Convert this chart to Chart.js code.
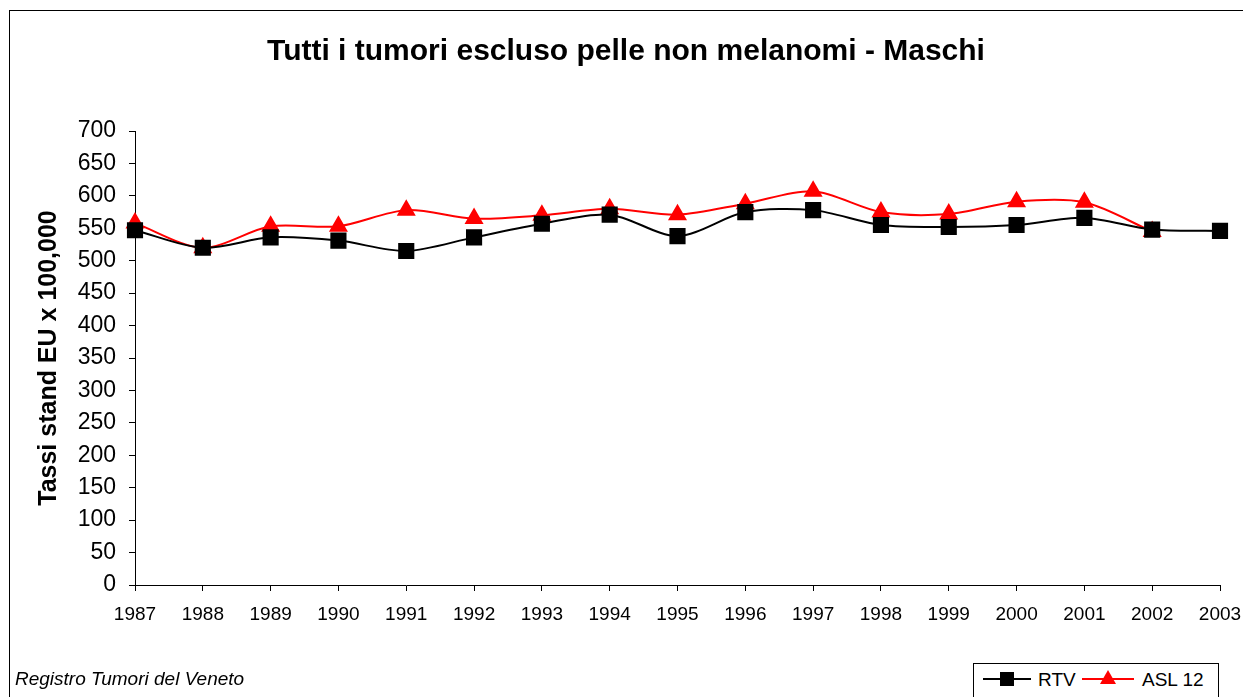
<!DOCTYPE html>
<html>
<head>
<meta charset="utf-8">
<title>Tutti i tumori escluso pelle non melanomi - Maschi</title>
<script src="https://cdn.jsdelivr.net/npm/chart.js@4.4.1/dist/chart.umd.min.js"></script>
<style>
  html, body { margin: 0; padding: 0; background: #fff; }
  body { width: 1243px; height: 697px; position: relative; overflow: hidden; font-family: "Liberation Sans", Arial, sans-serif; }
  #frame { position: absolute; left: 9px; top: 10px; width: 1240px; height: 700px; border: 1px solid #000; box-sizing: border-box; }
  #wrap { position: absolute; left: 0; top: 0; width: 1243px; height: 697px; }
  #title { position: absolute; left: 0; width: 1252px; top: 33px; text-align: center; font-weight: bold; font-size: 30px; }
  #source { position: absolute; left: 15px; top: 668px; font-style: italic; font-size: 19px; }
  #legend { position: absolute; left: 973px; top: 663px; width: 246px; height: 40px; border: 1px solid #000; box-sizing: border-box; background: #fff; }
  .item { position: absolute; top: 5px; font-size: 19px; line-height: 22px; }
  .line { position: absolute; height: 2px; }
  .sq { position: absolute; width: 14px; height: 14px; background: #000; }
  .tri { position: absolute; width: 0; height: 0; border-left: 8px solid transparent; border-right: 8px solid transparent; border-bottom: 14px solid #f00; }
</style>
</head>
<body>
<div id="frame"></div>
<div id="wrap"><canvas id="chart" width="1243" height="697"></canvas></div>
<div id="title">Tutti i tumori escluso pelle non melanomi - Maschi</div>
<div id="source">Registro Tumori del Veneto</div>
<div id="legend">
  <div class="line" style="left:9px; top:14px; width:48px; background:#000"></div>
  <div class="sq" style="left:26px; top:8px"></div>
  <div class="item" style="left:64px">RTV</div>
  <div class="line" style="left:108px; top:14px; width:52px; background:#f00"></div>
  <div class="tri" style="left:126px; top:6px"></div>
  <div class="item" style="left:168px">ASL 12</div>
</div>
<script>
// years on the x axis
var years = ["1987", "1988", "1989", "1990", "1991", "1992", "1993", "1994", "1995",
             "1996", "1997", "1998", "1999", "2000", "2001", "2002", "2003"];

// standardised rates (EU x 100,000)
var rtv   = [547, 520, 536, 531, 515, 536, 557, 571, 538, 575, 578, 555, 552, 555, 566, 548, 546];
var asl12 = [558, 520, 553, 553, 578, 565, 570, 580, 571, 588, 607, 575, 572, 591, 590, 545, null];

var yTicks = [0, 50, 100, 150, 200, 250, 300, 350, 400, 450, 500, 550, 600, 650, 700];

var ctx = document.getElementById("chart").getContext('2d');
var chart = new Chart(ctx, {
    type: 'line',
    data: {
        labels: years,
        datasets: [{
            label: 'RTV',
            data: rtv,
            borderColor: '#000',
            backgroundColor: '#000',
            borderWidth: 2,
            pointStyle: 'rect',
            pointRadius: 10,
            pointHoverRadius: 10,
            tension: 0.3
        }, {
            label: 'ASL 12',
            data: asl12,
            borderColor: '#ff0000',
            backgroundColor: '#ff0000',
            borderWidth: 2,
            pointStyle: 'triangle',
            pointRadius: 9,
            pointHoverRadius: 9,
            tension: 0.3
        }]
    },
    options: {
        responsive: false,
        animation: false,
        layout: { padding: { left: 0, top: 131, right: 23, bottom: 0 } },
        plugins: {
            legend: { display: false },
            title: { display: false },
            tooltip: { enabled: false }
        },
        scales: {
            x: {
                offset: false,
                border: { color: '#000', width: 1 },
                grid: { drawOnChartArea: false, color: '#000', tickLength: 6 },
                ticks: { color: '#000', padding: 12, maxRotation: 0, autoSkip: false,
                         font: { family: 'Liberation Sans', size: 19 } },
                afterFit: function (s) {
                    s.height = 112;
                    s.paddingLeft = 0;
                    s.paddingRight = 0;
                }
            },
            y: {
                min: 0,
                max: 700,
                afterBuildTicks: function (s) { s.ticks = yTicks.map(function (v) { return { value: v }; }); },
                border: { color: '#000', width: 1 },
                grid: { drawOnChartArea: false, color: '#000', tickLength: 6 },
                ticks: { color: '#000', padding: 13,
                         font: { family: 'Liberation Sans', size: 23 } },
                title: { display: true, text: 'Tassi stand EU x 100,000', color: '#000',
                         padding: { top: 34, bottom: 0 },
                         font: { family: 'Liberation Sans', size: 25, weight: 'bold' } },
                afterFit: function (s) {
                    s.width = 135;
                    s.paddingTop = 0;
                    s.paddingBottom = 0;
                }
            }
        }
    }
});
</script>
</body>
</html>
